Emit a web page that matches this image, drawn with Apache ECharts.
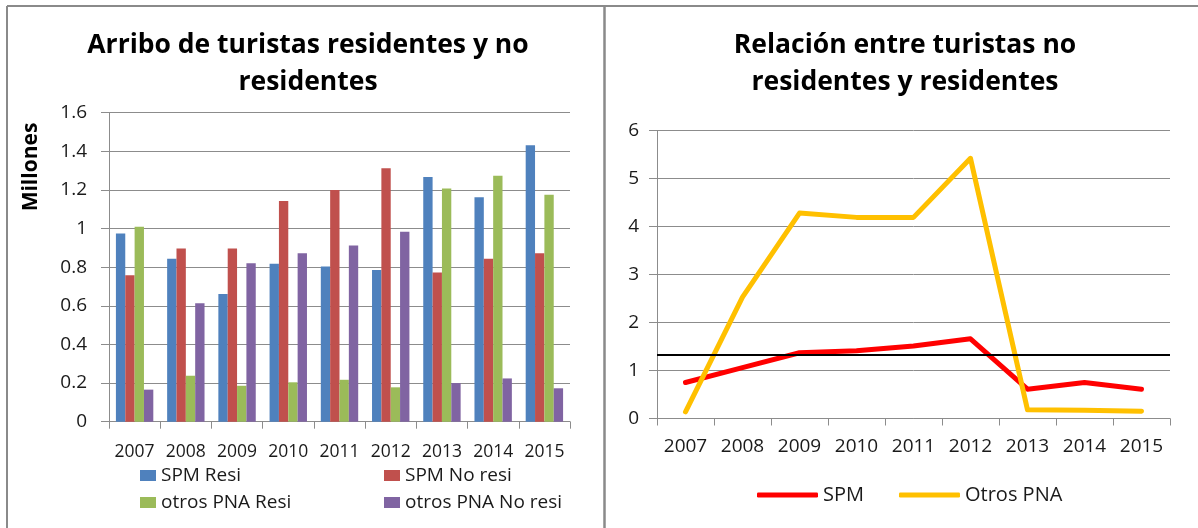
<!DOCTYPE html>
<html>
<head>
<meta charset="utf-8">
<script src="https://cdn.jsdelivr.net/npm/echarts@6/dist/echarts.min.js"></script>
<style>
html, body { margin: 0; padding: 0; background: #fff; }
#chart { width: 1198px; height: 528px; }
</style>
</head>
<body>
<div id="chart"></div>
<script>
// datos
var years = ['2007', '2008', '2009', '2010', '2011', '2012', '2013', '2014', '2015'];

// arribos (millones)
var spmResi = [0.975, 0.844, 0.661, 0.818, 0.804, 0.785, 1.267, 1.162, 1.432];
var spmNoResi = [0.758, 0.897, 0.897, 1.143, 1.200, 1.313, 0.773, 0.844, 0.872];
var otrosResi = [1.010, 0.238, 0.186, 0.204, 0.217, 0.178, 1.208, 1.274, 1.175];
var otrosNoResi = [0.166, 0.613, 0.820, 0.872, 0.913, 0.984, 0.200, 0.224, 0.173];

// relacion no residentes / residentes
var spmRatio = [0.75, 1.06, 1.37, 1.41, 1.51, 1.66, 0.61, 0.75, 0.61];
var otrosRatio = [0.14, 2.53, 4.28, 4.19, 4.19, 5.42, 0.18, 0.17, 0.15];
var umbral = 1.33;

var font = 'Open Sans';
var textColor = '#1a1a1a';
var gridColor = '#8c8c8c';

var chartDom = document.getElementById('chart');
var myChart = echarts.init(chartDom);
var option;

function axisX(gridIndex, fontSize, margin) {
    return {
        type: 'category',
        gridIndex: gridIndex,
        data: years,
        axisLine: { lineStyle: { color: gridColor, width: 1 } },
        axisTick: { show: true, length: 7, lineStyle: { color: gridColor } },
        axisLabel: { interval: 0, color: textColor, fontFamily: font, fontSize: fontSize, margin: margin }
    };
}

function axisY(gridIndex, max, interval, margin) {
    return {
        type: 'value',
        gridIndex: gridIndex,
        min: 0,
        max: max,
        interval: interval,
        axisLine: { show: true, lineStyle: { color: gridColor, width: 1 } },
        axisTick: { show: true, length: 8, lineStyle: { color: gridColor } },
        splitLine: { lineStyle: { color: gridColor, width: 1 } },
        axisLabel: { color: textColor, fontFamily: font, fontSize: 19, margin: margin }
    };
}

function barLegend(name, left, top) {
    return {
        data: [name],
        left: left,
        top: top,
        padding: 0,
        icon: 'rect',
        itemWidth: 16,
        itemHeight: 11,
        textStyle: { color: textColor, fontFamily: font, fontSize: 19 }
    };
}

function bar(name, data, color) {
    return {
        name: name,
        type: 'bar',
        xAxisIndex: 0,
        yAxisIndex: 0,
        data: data,
        barGap: '0%',
        barCategoryGap: '27%',
        itemStyle: { color: color }
    };
}

option = {
    animation: false,
    textStyle: { fontFamily: font },
    grid: [
        { left: 109, top: 112.7, width: 461, height: 309 },
        { left: 657, top: 130.5, width: 513, height: 288 }
    ],
    xAxis: [axisX(0, 17.5, 21), axisX(1, 19, 19)],
    yAxis: [axisY(0, 1.6, 0.2, 22), axisY(1, 6, 1, 18)],
    legend: [
        barLegend('SPM Resi', 140, 466),
        barLegend('SPM No resi', 384, 466),
        barLegend('otros PNA Resi', 140, 493),
        barLegend('otros PNA No resi', 384, 493),
        {
            data: ['SPM', 'Otros PNA'],
            left: 757,
            top: 485,
            padding: 0,
            icon: 'roundRect',
            itemWidth: 61,
            itemHeight: 5,
            itemGap: 35,
            textStyle: { color: textColor, fontFamily: font, fontSize: 20 }
        }
    ],
    graphic: [
        { type: 'line', shape: { x1: 7, y1: 6, x2: 1198, y2: 6 }, style: { stroke: '#8a8a8a', lineWidth: 2 } },
        { type: 'line', shape: { x1: 7, y1: 6, x2: 7, y2: 528 }, style: { stroke: '#8a8a8a', lineWidth: 2 } },
        { type: 'line', shape: { x1: 604.5, y1: 6, x2: 604.5, y2: 528 }, style: { stroke: '#8a8a8a', lineWidth: 2.5 } },
        {
            type: 'text', x: 308, y: 63.5,
            style: {
                text: 'Arribo de turistas residentes y no\nresidentes',
                font: 'bold 26.5px "Open Sans"', fill: '#000', textAlign: 'center', textVerticalAlign: 'middle', lineHeight: 37
            }
        },
        {
            type: 'text', x: 905, y: 64,
            style: {
                text: 'Relación entre turistas no\nresidentes y residentes',
                font: 'bold 26.5px "Open Sans"', fill: '#000', textAlign: 'center', textVerticalAlign: 'middle', lineHeight: 37
            }
        },
        {
            type: 'text', x: 31, y: 167, rotation: Math.PI / 2,
            style: {
                text: 'Millones', font: 'bold 21px "Open Sans"', fill: '#000', textAlign: 'center', textVerticalAlign: 'middle'
            }
        }
    ],
    series: [
        bar('SPM Resi', spmResi, '#4F81BD'),
        bar('SPM No resi', spmNoResi, '#C0504D'),
        bar('otros PNA Resi', otrosResi, '#9BBB59'),
        bar('otros PNA No resi', otrosNoResi, '#8064A2'),
        {
            name: 'SPM',
            type: 'line',
            xAxisIndex: 1,
            yAxisIndex: 1,
            data: spmRatio,
            symbol: 'none',
            itemStyle: { color: '#FF0000' },
            lineStyle: { color: '#FF0000', width: 5, cap: 'round', join: 'round' },
            markLine: {
                silent: true,
                symbol: ['none', 'none'],
                label: { show: false },
                lineStyle: { color: '#000', width: 2, type: 'solid' },
                data: [{ yAxis: umbral }]
            }
        },
        {
            name: 'Otros PNA',
            type: 'line',
            xAxisIndex: 1,
            yAxisIndex: 1,
            data: otrosRatio,
            symbol: 'none',
            itemStyle: { color: '#FFC000' },
            lineStyle: { color: '#FFC000', width: 5, cap: 'round', join: 'round' }
        }
    ]
};

option && myChart.setOption(option);
</script>
</body>
</html>
